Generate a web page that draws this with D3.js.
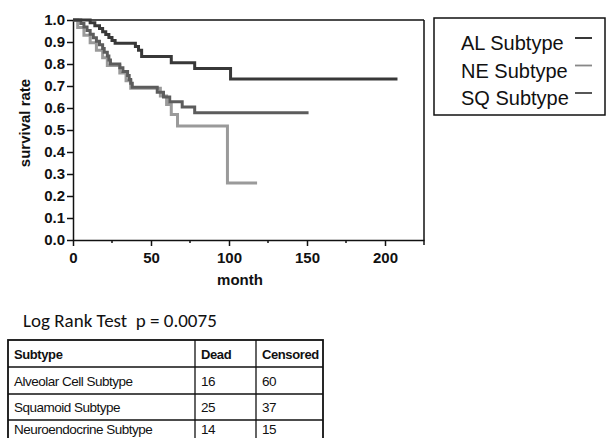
<!DOCTYPE html>
<html>
<head>
<meta charset="utf-8">
<script src="https://cdn.jsdelivr.net/npm/d3@7"></script>
<style>
  body { margin: 0; background: #fff; }
  svg text { font-family: "Liberation Sans", Arial, sans-serif; fill: #111; }
  .tick text { font-size: 15px; font-weight: bold; }
  .axis path, .axis line { stroke: #111; stroke-width: 1.5px; }
  .curve { fill: none; stroke-width: 3px; }
  .note { font-family: Carlito, Lato, "Open Sans", sans-serif !important; font-size: 19px; white-space: pre; }
</style>
</head>
<body>
<div id="chart"></div>
<script>
// ---- data ----
var legendNames = ["AL Subtype", "NE Subtype", "SQ Subtype"];

var alMonths = [0, 11, 14, 17, 19, 21, 23, 25, 27, 40, 42, 44, 63, 78, 101, 208];
var alSurv   = [1, .987, .974, .961, .947, .934, .921, .907, .894, .879, .862, .834, .806, .780, .732, .732];

var sqMonths = [0, 5, 7, 9, 11, 13, 15, 17, 19, 20, 22, 23, 24, 30, 32, 35, 36, 37, 38, 54, 58, 62, 70, 78, 151];
var sqSurv   = [1, .984, .968, .952, .935, .919, .903, .887, .870, .853, .836, .818, .800, .783, .766, .748, .730, .712, .694, .672, .650, .628, .604, .578, .578];

var neMonths = [0, 3, 7, 11, 15, 19, 22, 30, 34, 37, 56, 60, 63, 67, 99, 118];
var neSurv   = [1, .966, .931, .897, .862, .828, .793, .759, .724, .690, .655, .616, .570, .518, .259, .259];

var yTickValues = [0, 0.1, 0.2, 0.3, 0.4, 0.5, 0.6, 0.7, 0.8, 0.9, 1.0];
var xTickValues = [0, 50, 100, 150, 200];
var xMinorTicks = [25, 75, 125, 175];

var pText = "Log Rank Test  p = 0.0075";
var tableHeader = ["Subtype", "Dead", "Censored"];
var tableNames = ["Alveolar Cell Subtype", "Squamoid Subtype", "Neuroendocrine Subtype"];
var deadCounts = [16, 25, 14];
var censoredCounts = [60, 37, 15];

// ---- layout ----
var w = 606, h = 438;
var svg = d3.select("#chart").append("svg").attr("width", w).attr("height", h);

var x = d3.scaleLinear().domain([0, 225]).range([73, 424]);
var y = d3.scaleLinear().domain([0, 1]).range([240, 20]);

// frame: top and right
svg.append("line").attr("x1", x(0)).attr("x2", x(225)).attr("y1", y(1)).attr("y2", y(1))
  .attr("stroke", "#111").attr("stroke-width", 1.5);
svg.append("line").attr("x1", x(225)).attr("x2", x(225)).attr("y1", y(1)).attr("y2", y(0) + 5)
  .attr("stroke", "#111").attr("stroke-width", 1.5);

svg.append("g").attr("class", "axis")
  .attr("transform", "translate(" + x(0) + ",0)")
  .call(d3.axisLeft(y).tickValues(yTickValues).tickFormat(d3.format(".1f"))
    .tickSize(6).tickSizeOuter(0).tickPadding(2));

var xa = svg.append("g").attr("class", "axis")
  .attr("transform", "translate(0," + y(0) + ")")
  .call(d3.axisBottom(x).tickValues(xTickValues).tickFormat(d3.format("d"))
    .tickSize(6).tickSizeOuter(0).tickPadding(6));
xa.selectAll(".minor").data(xMinorTicks).enter().append("line")
  .attr("class", "minor")
  .attr("x1", function(d) { return x(d); }).attr("x2", function(d) { return x(d); })
  .attr("y1", 0).attr("y2", 3);

svg.append("text").attr("x", 240).attr("y", 285).attr("text-anchor", "middle")
  .style("font-size", "15px").style("font-weight", "bold").text("month");
svg.append("text").attr("transform", "translate(30,123) rotate(-90)")
  .attr("text-anchor", "middle")
  .style("font-size", "15px").style("font-weight", "bold").text("survival rate");

// ---- curves ----
var line = d3.line()
  .x(function(d) { return x(d[0]); })
  .y(function(d) { return y(d[1]); })
  .curve(d3.curveStepAfter);

var series = [
  { months: neMonths, surv: neSurv, color: "#9a9a9a" },
  { months: sqMonths, surv: sqSurv, color: "#5c5c5c" },
  { months: alMonths, surv: alSurv, color: "#383838" }
];
series.forEach(function(s) {
  svg.append("path").attr("class", "curve")
    .attr("stroke", s.color)
    .attr("d", line(d3.zip(s.months, s.surv)));
});

// ---- legend ----
var legendColors = ["#222", "#888", "#444"];
var lg = svg.append("g");
lg.append("rect").attr("x", 434).attr("y", 18).attr("width", 171).attr("height", 97)
  .attr("fill", "#fff").attr("stroke", "#111").attr("stroke-width", 1.5);
legendNames.forEach(function(name, i) {
  var by = 50 + i * 27.5;
  lg.append("text").attr("x", 461).attr("y", by).style("font-size", "20px").text(name);
  lg.append("line").attr("x1", 575).attr("x2", 592).attr("y1", by - 12).attr("y2", by - 12)
    .attr("stroke", legendColors[i]).attr("stroke-width", 1.8);
});

// ---- log rank note and table ----
svg.append("text").attr("class", "note").attr("x", 23).attr("y", 327).text(pText);

var colX = [8, 195, 256, 323];
var rowY = [340, 367, 394, 420, 447];
var textY = [359, 386, 412, 434];
var tg = svg.append("g");
tg.append("rect").attr("x", colX[0]).attr("y", rowY[0])
  .attr("width", colX[3] - colX[0]).attr("height", rowY[4] - rowY[0])
  .attr("fill", "none").attr("stroke", "#111").attr("stroke-width", 1.8);
rowY.slice(1, 4).forEach(function(ry) {
  tg.append("line").attr("x1", colX[0]).attr("x2", colX[3]).attr("y1", ry).attr("y2", ry)
    .attr("stroke", "#111").attr("stroke-width", 1.3);
});
colX.slice(1, 3).forEach(function(cx) {
  tg.append("line").attr("x1", cx).attr("x2", cx).attr("y1", rowY[0]).attr("y2", rowY[4])
    .attr("stroke", "#111").attr("stroke-width", 1.3);
});

var rows = [tableHeader].concat(tableNames.map(function(n, i) {
  return [n, deadCounts[i], censoredCounts[i]];
}));
rows.forEach(function(r, ri) {
  r.forEach(function(cell, ci) {
    tg.append("text")
      .attr("x", colX[ci] + 6)
      .attr("y", textY[ri])
      .style("font-size", ri === 0 ? "13px" : "13.5px")
      .style("font-weight", ri === 0 ? "bold" : "normal")
      .style("letter-spacing", ri === 0 ? "-0.4px" : "-0.5px")
      .text(cell);
  });
});
</script>
</body>
</html>
